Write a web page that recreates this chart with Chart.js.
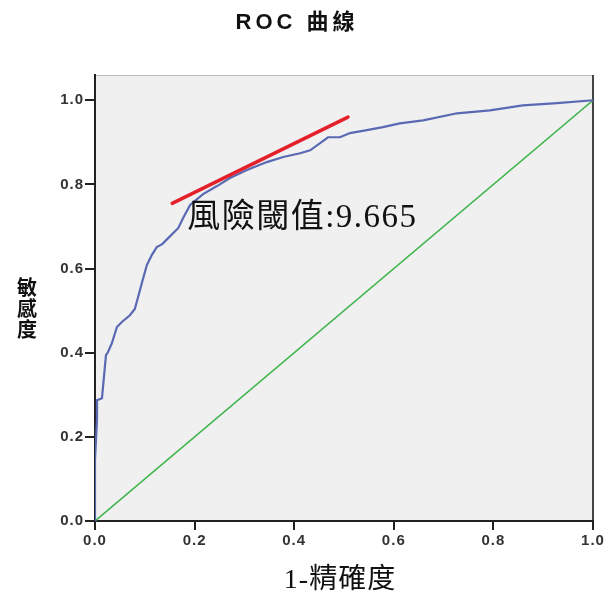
<!DOCTYPE html>
<html>
<head>
<meta charset="utf-8">
<script src="https://cdn.jsdelivr.net/npm/chart.js@4"></script>
<style>
  html, body { margin: 0; padding: 0; background: #fff; }
  #wrap { width: 609px; height: 610px; }
</style>
</head>
<body>
<div id="wrap"><canvas id="roc"></canvas></div>
<script>
/*-------- DATA ---------*/
const fpr = [0, 0, 0.004, 0.004, 0.014, 0.022, 0.026, 0.034, 0.044, 0.054, 0.070, 0.080,
  0.094, 0.104, 0.114, 0.124, 0.135, 0.151, 0.167, 0.177, 0.191, 0.217, 0.245, 0.271,
  0.305, 0.345, 0.378, 0.412, 0.432, 0.452, 0.468, 0.492, 0.512, 0.546, 0.578, 0.612,
  0.659, 0.727, 0.793, 0.859, 0.928, 1];
const tpr = [0, 0.145, 0.24, 0.287, 0.292, 0.394, 0.401, 0.423, 0.461, 0.473, 0.489, 0.504,
  0.565, 0.608, 0.632, 0.651, 0.658, 0.677, 0.696, 0.720, 0.751, 0.777, 0.796, 0.815,
  0.834, 0.853, 0.865, 0.874, 0.881, 0.898, 0.912, 0.912, 0.922, 0.929, 0.936, 0.945,
  0.952, 0.969, 0.976, 0.988, 0.993, 1];
const refX = [0, 1];
const refY = [0, 1];
const tangentX = [0.155, 0.508];
const tangentY = [0.755, 0.960];
const tickValues = [0, 0.2, 0.4, 0.6, 0.8, 1.0];

const titleText = "ROC 曲線";
const xTitle = "1-精確度";
const yTitle = ["敏", "感", "度"];
const noteText = "風險閾值:9.665";
const notePos = { x: 0.185, y: 0.72 };

const toPts = (xs, ys) => xs.map((x, i) => ({ x: x, y: ys[i] }));

/*-------- PLUGINS ---------*/
const plotBg = {
  id: "plotBg",
  beforeDraw(chart) {
    const { ctx, chartArea: a } = chart;
    ctx.save();
    ctx.fillStyle = "#f0f0f0";
    ctx.fillRect(a.left, a.top, a.right - a.left, a.bottom - a.top);
    ctx.strokeStyle = "#bdbdbd";
    ctx.lineWidth = 1;
    ctx.beginPath();
    ctx.moveTo(a.left, a.top + 0.5);
    ctx.lineTo(a.right, a.top + 0.5);
    ctx.stroke();
    ctx.strokeStyle = "#444";
    ctx.lineWidth = 2;
    ctx.beginPath();
    ctx.moveTo(a.right, a.top);
    ctx.lineTo(a.right, a.bottom);
    ctx.stroke();
    ctx.restore();
    // wider spacing for the tick labels, like the original
    ctx.letterSpacing = "1px";
  }
};

const texts = {
  id: "texts",
  afterDraw(chart) {
    const { ctx, scales } = chart;
    ctx.save();
    ctx.fillStyle = "#111";
    ctx.textBaseline = "middle";

    // title
    ctx.textAlign = "center";
    ctx.letterSpacing = "4px";
    ctx.font = 'bold 22px "Liberation Sans", "Noto Sans CJK TC"';
    ctx.fillText(titleText, 297, 23);

    // x title
    ctx.letterSpacing = "1px";
    ctx.font = '28px "Liberation Serif", "Noto Sans CJK TC"';
    ctx.fillText(xTitle, 340, 581);

    // y title, stacked
    ctx.letterSpacing = "0px";
    ctx.font = 'bold 20px "Noto Sans CJK TC"';
    yTitle.forEach((c, i) => ctx.fillText(c, 27, 287 + i * 21));

    // threshold note
    ctx.textAlign = "left";
    ctx.letterSpacing = "1.5px";
    ctx.font = '33px "Liberation Serif", "Noto Sans CJK TC"';
    ctx.fillText(noteText, scales.x.getPixelForValue(notePos.x), scales.y.getPixelForValue(notePos.y));
    ctx.restore();
  }
};

/*-------- CHART ---------*/
const tickFont = { family: '"Liberation Sans", Arial', size: 15, weight: "bold" };

new Chart(document.getElementById("roc").getContext("2d"), {
  type: "line",
  data: {
    datasets: [
      {
        data: toPts(refX, refY),
        borderColor: "#3db54a",
        borderWidth: 1.6,
        pointRadius: 0,
        order: 3
      },
      {
        data: toPts(fpr, tpr),
        borderColor: "#5a69b3",
        borderWidth: 2.2,
        pointRadius: 0,
        tension: 0,
        order: 2
      },
      {
        data: toPts(tangentX, tangentY),
        borderColor: "#e4202a",
        borderWidth: 3.5,
        borderCapStyle: "round",
        pointRadius: 0,
        order: 1
      }
    ]
  },
  options: {
    responsive: true,
    maintainAspectRatio: false,
    animation: false,
    layout: { padding: { top: 75, right: 16, left: 0, bottom: 0 } },
    plugins: {
      legend: { display: false },
      tooltip: { enabled: false }
    },
    scales: {
      x: {
        type: "linear",
        min: 0,
        max: 1,
        afterBuildTicks: (s) => { s.ticks = tickValues.map(v => ({ value: v })); },
        afterFit: (s) => { s.height = 89; },
        ticks: {
          color: "#333",
          font: tickFont,
          padding: 2,
          maxRotation: 0,
          callback: (v) => v.toFixed(1)
        },
        grid: { drawOnChartArea: false, tickLength: 9, color: "#222", lineWidth: 2 },
        border: { color: "#222", width: 2 }
      },
      y: {
        type: "linear",
        min: 0,
        max: 1.06,
        afterBuildTicks: (s) => { s.ticks = tickValues.map(v => ({ value: v })); },
        afterFit: (s) => { s.width = 95; },
        ticks: {
          color: "#333",
          font: tickFont,
          padding: 1,
          callback: (v) => v.toFixed(1)
        },
        grid: { drawOnChartArea: false, tickLength: 10, color: "#222", lineWidth: 2 },
        border: { color: "#222", width: 2 }
      }
    }
  },
  plugins: [plotBg, texts]
});
</script>
</body>
</html>
